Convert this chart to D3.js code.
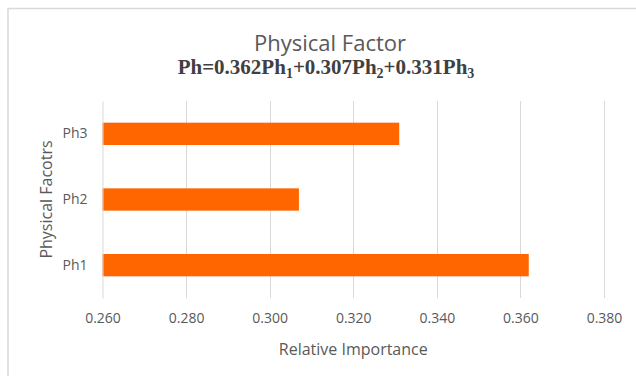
<!DOCTYPE html>
<html><head><meta charset="utf-8">
<script src="https://cdn.jsdelivr.net/npm/d3@7"></script>
<style>
html,body{margin:0;padding:0;background:#fff;}
svg{display:block;}
</style></head>
<body>
<svg id="chart" width="636" height="376"></svg>
<script>
const categories = ["Ph1", "Ph2", "Ph3"];
const values = [0.362, 0.307, 0.331];
const xTicks = [0.26, 0.28, 0.30, 0.32, 0.34, 0.36, 0.38];

const svg = d3.select("#chart");
const W = 636, H = 376;
const m = {left: 102.5, right: 32, top: 101, bottom: 78};

// frame
svg.append("rect").attr("x", 8).attr("y", 8.5).attr("width", 700).attr("height", 500)
  .attr("fill", "#fff").attr("stroke", "#d9d9d9").attr("stroke-width", 1.5);

const x = d3.scaleLinear().domain([0.26, 0.38]).range([m.left, W - m.right]);
const y = d3.scaleBand().domain(categories.slice().reverse()).range([m.top, H - m.bottom]).paddingInner(0.66).paddingOuter(0.33);

// gridlines
svg.append("g").selectAll("line").data(xTicks.slice(1)).join("line")
  .attr("x1", d => Math.round(x(d)) + 0.5).attr("x2", d => Math.round(x(d)) + 0.5)
  .attr("y1", m.top).attr("y2", H - m.bottom)
  .attr("stroke", "#d9d9d9").attr("stroke-width", 1);

// bars
svg.append("g").selectAll("rect").data(categories).join("rect")
  .attr("x", x(0.26))
  .attr("y", d => y(d))
  .attr("width", (d, i) => x(values[i]) - x(0.26))
  .attr("height", y.bandwidth())
  .attr("fill", "#ff6600");

const font = "'Open Sans', sans-serif";

// x axis
const xAxis = svg.append("g").attr("transform", `translate(0,${H - m.bottom})`)
  .call(d3.axisBottom(x).tickValues(xTicks).tickFormat(d3.format(".3f")).tickSize(0).tickPadding(15));
xAxis.select(".domain").remove();
xAxis.selectAll("text").attr("font-family", font).attr("font-size", 14).attr("fill", "#595959");

// y axis
const yAxis = svg.append("g").attr("transform", `translate(${m.left},0)`)
  .call(d3.axisLeft(y).tickSize(0).tickPadding(15));
yAxis.select(".domain").attr("stroke", "#d9d9d9");
yAxis.selectAll("text").attr("font-family", font).attr("font-size", 14).attr("fill", "#595959");

// titles
svg.append("text").attr("x", 330).attr("y", 51).attr("text-anchor", "middle")
  .attr("font-family", font).attr("font-size", 22).attr("fill", "#595959")
  .text("Physical Factor");

const sub = svg.append("text").attr("x", 326).attr("y", 74).attr("text-anchor", "middle")
  .attr("font-family", "'Liberation Serif', 'Times New Roman', serif").attr("font-size", 21)
  .attr("font-weight", "bold").attr("fill", "#404040");
const parts = [["Ph=0.362Ph", false], ["1", true], ["+0.307Ph", false], ["2", true], ["+0.331Ph", false], ["3", true]];
parts.forEach(([t, s], i) => {
  const ts = sub.append("tspan").text(t);
  if (s) ts.attr("font-size", 14).attr("dy", 4);
  else if (i > 0) ts.attr("dy", -4);
});

svg.append("text").attr("x", x(0.32)).attr("y", 355).attr("text-anchor", "middle")
  .attr("font-family", font).attr("font-size", 16).attr("fill", "#595959")
  .text("Relative Importance");

svg.append("text").attr("transform", `translate(52,${(m.top + H - m.bottom) / 2}) rotate(-90)`)
  .attr("text-anchor", "middle")
  .attr("font-family", font).attr("font-size", 16).attr("fill", "#595959")
  .text("Physical Facotrs");
</script>
</body></html>
